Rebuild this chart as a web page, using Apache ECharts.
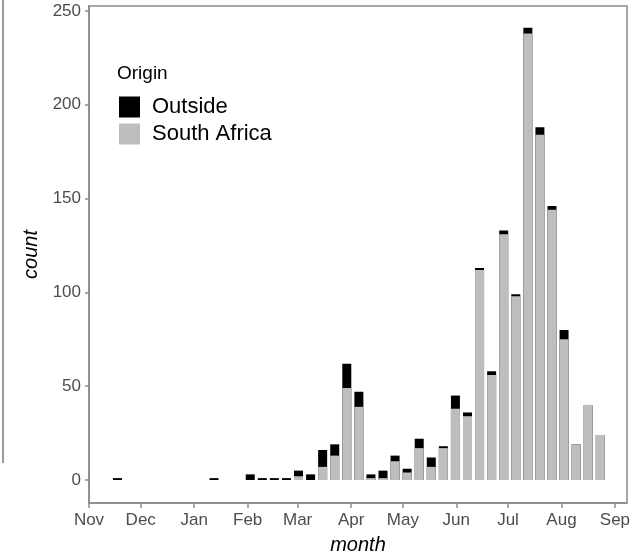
<!DOCTYPE html>
<html>
<head>
<meta charset="utf-8">
<script src="https://cdn.jsdelivr.net/npm/echarts@6/dist/echarts.min.js"></script>
<style>html,body{margin:0;padding:0;background:#fff}#c{width:639px;height:556px}</style>
</head>
<body>
<div id="c"></div>
<script>
// Week centre dates (weekly bins)
const weeks = ['2019-11-17','2019-11-24','2019-12-01','2019-12-08','2019-12-15','2019-12-22','2019-12-29',
  '2020-01-05','2020-01-12','2020-01-19','2020-01-26','2020-02-02','2020-02-09','2020-02-16','2020-02-23',
  '2020-03-01','2020-03-08','2020-03-15','2020-03-22','2020-03-29','2020-04-05','2020-04-12','2020-04-19',
  '2020-04-26','2020-05-03','2020-05-10','2020-05-17','2020-05-24','2020-05-31','2020-06-07','2020-06-14',
  '2020-06-21','2020-06-28','2020-07-05','2020-07-12','2020-07-19','2020-07-26','2020-08-02','2020-08-09',
  '2020-08-16','2020-08-23'];
const southAfrica = [0,0,0,0,0,0,0, 0,0,0,0,0,0,0,0, 2,0,7,13,49,39,1,1, 10,4,17,7,17,38,34,112, 56,131,98,238,184,144,75,19, 40,24];
const outside     = [1,0,0,0,0,0,0, 0,1,0,0,3,1,1,1, 3,3,9,6,13,8,2,4, 3,2,5,5,1,7,2,1, 2,2,1,3,4,2,5,0, 0,0];
const monthTicks = ['2019-11-01','2019-12-01','2020-01-01','2020-02-01','2020-03-01','2020-04-01','2020-05-01',
  '2020-06-01','2020-07-01','2020-08-01','2020-09-01'];
const monthLabels = ['Nov','Dec','Jan','Feb','Mar','Apr','May','Jun','Jul','Aug','Sep'];
const yTicks = [0,50,100,150,200,250];

// days since 2019-11-01 (UTC based, DST-free)
const base = Date.UTC(2019,10,1);
const dayOf = s => { const p = s.split('-').map(Number); return (Date.UTC(p[0],p[1]-1,p[2]) - base)/86400000; };
const tickDays = monthTicks.map(dayOf);
const labelOf = {};
tickDays.forEach((t,i)=>{labelOf[t]=monthLabels[i];});

const chart = echarts.init(document.getElementById('c'), null, {renderer:'canvas'});
const axisGrey = '#8a8a8a';
const font = 'Liberation Sans, Arial, sans-serif';
chart.setOption({
  animation:false,
  backgroundColor:'#fff',
  grid:{left:89, right:12, top:6, bottom:53, show:true, borderColor:axisGrey, borderWidth:1.5,
    containLabel:false, outerBoundsMode:'none'},
  legend:{
    data:['Outside','South Africa'], orient:'vertical', left:119, top:96, padding:0,
    itemWidth:21, itemHeight:21, itemGap:5, icon:'rect',
    textStyle:{fontFamily:font, fontSize:22, color:'#000', padding:[0,0,0,7]}
  },
  graphic:[
    {type:'text', left:117, top:64, style:{text:'Origin', fontFamily:font, fontSize:19, fill:'#000'}},
    {type:'line', shape:{x1:3,y1:0,x2:3,y2:463}, style:{stroke:'#9a9a9a', lineWidth:2}}
  ],
  xAxis:{
    type:'value',
    min: dayOf('2019-11-01'), max: dayOf('2020-09-08'),
    name:'month', nameLocation:'middle', nameGap:32,
    nameTextStyle:{fontFamily:font, fontSize:20, fontStyle:'italic', color:'#000'},
    axisLine:{show:true, onZero:false, lineStyle:{color:axisGrey, width:1.5}},
    axisTick:{show:true, length:5, lineStyle:{color:axisGrey, width:1.5}, customValues: tickDays},
    axisLabel:{customValues: tickDays, formatter: v => labelOf[v] || '', margin:9,
      fontFamily:font, fontSize:17, color:'#4d4d4d', hideOverlap:false},
    splitLine:{show:false}
  },
  yAxis:{
    type:'value', min:-12.26, max:252.66,
    name:'count', nameLocation:'middle', nameGap:44, nameRotate:90,
    nameTextStyle:{fontFamily:font, fontSize:20, fontStyle:'italic', color:'#000'},
    axisLine:{show:true, onZero:false, lineStyle:{color:axisGrey, width:1.5}},
    axisTick:{show:true, length:4, lineStyle:{color:axisGrey, width:1.5}, customValues: yTicks},
    axisLabel:{customValues: yTicks, margin:8, fontFamily:font, fontSize:17, color:'#4d4d4d'},
    splitLine:{show:false}
  },
  series:[
    // black bar spans the whole stacked total; grey South Africa part overlays its lower section
    {name:'Outside', type:'bar', barWidth:9, barGap:'-100%', itemStyle:{color:'#000000'},
      data: weeks.map((w,i)=>[dayOf(w)+0.5, southAfrica[i]+outside[i]])},
    {name:'South Africa', type:'bar', barWidth:9, barGap:'-100%', itemStyle:{color:'#bebebe'},
      data: weeks.map((w,i)=>[dayOf(w)+0.5, southAfrica[i]])}
  ]
});
</script>
</body>
</html>
